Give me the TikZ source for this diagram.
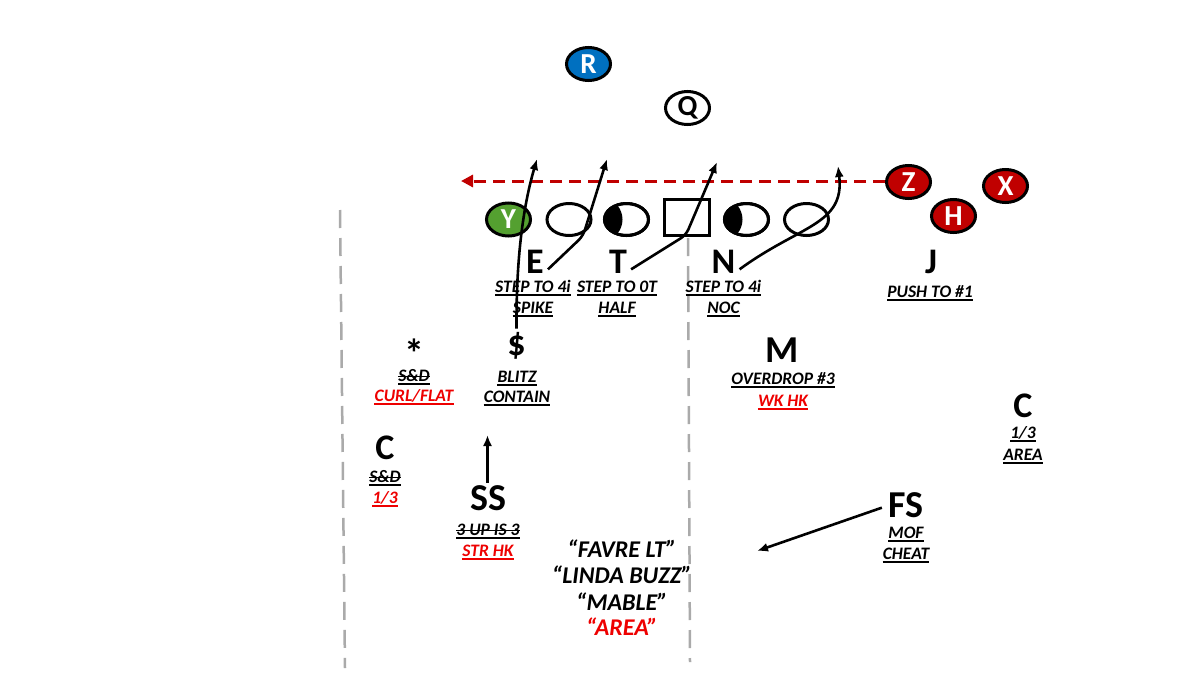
\documentclass[tikz,border=0pt]{standalone}
\usepackage{fontspec}
\setmainfont{Carlito}
\usetikzlibrary{arrows.meta,shapes.geometric}
\definecolor{pred}{RGB}{192,0,0}
\definecolor{pblue}{RGB}{0,112,192}
\definecolor{pgreen}{RGB}{84,160,48}
\definecolor{tred}{RGB}{238,0,0}
\definecolor{dgray}{RGB}{170,170,170}
\newcommand{\ulab}[4]{%
  \node[lab,text=#3] (#1) at (#2) {#4};
  \draw[#3,line width=1.6pt] ([yshift=-2.8pt]#1.base west) -- ([yshift=-2.8pt]#1.base east);}
\newcommand{\slab}[4]{%
  \ulab{#1}{#2}{#3}{#4}%
  \draw[#3,line width=1.6pt] ([yshift=4.6pt]#1.base west) -- ([yshift=4.6pt]#1.base east);}
\begin{document}
\begin{tikzpicture}[x=1pt,y=-1pt,
  player/.style={ellipse,draw=black,line width=3pt,minimum width=44pt,minimum height=33pt,inner sep=0pt,text=white,font=\fontsize{29}{29}\selectfont\bfseries},
  oline/.style={ellipse,draw=black,line width=3pt,minimum width=44pt,minimum height=32pt,inner sep=0pt,fill=white},
  big/.style={font=\fontsize{36}{36}\selectfont\bfseries,anchor=base,inner sep=0pt},
  bigger/.style={font=\fontsize{38}{38}\selectfont\bfseries,anchor=base,inner sep=0pt},
  lab/.style={font=\fontsize{17.5}{17.5}\selectfont\bfseries\itshape,anchor=base,inner sep=0pt},
  call/.style={font=\fontsize{24}{24}\selectfont\bfseries\itshape,anchor=base,inner sep=0pt},
  route/.style={line width=2.6pt,-{Latex[length=11pt,width=9pt]}},
  gdash/.style={dgray,line width=2.5pt,dash pattern=on 18pt off 10pt}]
\fill[white] (0,0) rectangle (1200,675);
\useasboundingbox (0,0) rectangle (1200,675);

% gray dashed lines
\coordinate (g1a) at (340,210);
\coordinate (g1b) at (345,668);
\coordinate (g2a) at (688,238);
\coordinate (g2b) at (690,662);
\draw[gdash] (g1a) -- (g1b);
\draw[gdash] (g2a) -- (g2b);

% backfield / receivers
\node[player,fill=pblue] (R) at (588.5,64) {R};
\node[player,fill=white,text=black] (Q) at (687.5,108) {Q};
\node[player,fill=pred] (Z) at (908.5,182) {Z};
\node[player,fill=pred] (X) at (1005.5,186) {X};
\node[player,fill=pred] (H) at (953.5,216) {H};
\node[player,fill=pgreen] (Y) at (508.5,219.5) {Y};

% offensive line
\node[oline] (OL1) at (569,219.5) {};
\node[oline] (OL2) at (626.5,219.5) {};
\begin{scope}
  \clip (OL2.center) ellipse [x radius=22pt,y radius=16pt];
  \fill ([xshift=-22pt]OL2.center) ellipse [x radius=18pt,y radius=20pt];
\end{scope}
\draw[line width=3pt] (OL2.center) ellipse [x radius=22pt,y radius=16pt];
\node[draw,line width=3pt,minimum width=45pt,minimum height=36pt,inner sep=0pt,fill=white] (OC) at (687,217.5) {};
\node[oline] (OL4) at (746.5,219.5) {};
\begin{scope}
  \clip (OL4.center) ellipse [x radius=22pt,y radius=16pt];
  \fill ([xshift=-22pt]OL4.center) ellipse [x radius=18pt,y radius=20pt];
\end{scope}
\draw[line width=3pt] (OL4.center) ellipse [x radius=22pt,y radius=16pt];
\node[oline] (OL5) at (806.5,219.5) {};

% red motion
\coordinate (ztip) at (461,181);
\draw[pred,line width=3pt,dash pattern=on 12pt off 7pt,-{Triangle[length=12pt,width=12pt]}] ([yshift=1pt]Z.west) -- ([yshift=1pt]Z.west -| ztip);

% defenders
\node[big] (E) at (535,273) {E};
\node[big] (T) at (618,273) {T};
\node[big] (N) at (723.5,273) {N};
\node[big] (J) at (931,273) {J};
\node[big] (DOL) at (516.5,355) {\$};
\node[font=\fontsize{40}{40}\selectfont\bfseries,anchor=base,inner sep=0pt] (STAR) at (414,367) {*};
\node[big] (CL) at (385,459.5) {C};
\node[bigger] (SS) at (488.5,510) {SS};
\node[bigger] (M) at (782,362.5) {M};
\node[big] (CR) at (1023,417) {C};
\node[bigger] (FS) at (905.5,517) {FS};

% labels
\ulab{lE1}{533,292}{black}{STEP TO 4i}
\ulab{lE2}{533,313}{black}{SPIKE}
\ulab{lT1}{617,292}{black}{STEP TO 0T}
\ulab{lT2}{617,313}{black}{HALF}
\ulab{lN1}{723.5,292}{black}{STEP TO 4i}
\ulab{lN2}{723.5,313}{black}{NOC}
\ulab{lJ}{930,297}{black}{PUSH TO \#1}
\slab{lS1}{414,381}{black}{S\&D}
\ulab{lS2}{414,401}{tred}{CURL/FLAT}
\ulab{lD1}{517,382}{black}{BLITZ}
\ulab{lD2}{517,402}{black}{CONTAIN}
\slab{lC1}{385,482}{black}{S\&D}
\ulab{lC2}{385,503}{tred}{1/3}
\slab{lSS1}{488,535}{black}{3 UP IS 3}
\ulab{lSS2}{488,556}{tred}{STR HK}
\ulab{lM1}{783,384}{black}{OVERDROP \#3}
\ulab{lM2}{783,406}{tred}{WK HK}
\ulab{lCR1}{1023,438}{black}{1/3}
\ulab{lCR2}{1023,460}{black}{AREA}
\ulab{lF1}{906,538}{black}{MOF}
\ulab{lF2}{906,559}{black}{CHEAT}

% calls
\node[call] (c1) at (622,557) {“FAVRE LT”};
\node[call] (c2) at (622,583) {“LINDA BUZZ”};
\node[call] (c3) at (622,610) {“MABLE”};
\node[call,text=tred] (c4) at (622,635) {“AREA”};

% routes
\coordinate (dtip) at (537,159);
\coordinate (etip) at (607,159);
\coordinate (ttip) at (717,162);
\coordinate (ntip) at (838,166);
\coordinate (ebend) at (583,236);
\coordinate (tbend) at (686,235);
\draw[route] ([yshift=3pt]DOL.north) .. controls (516,250) and (525,200) .. (dtip);
\draw[route,rounded corners=6pt] ([xshift=4pt,yshift=-8pt]E.east) -- (ebend) -- (etip);
\draw[route,rounded corners=6pt] ([xshift=4pt,yshift=-8pt]T.east) -- (tbend) -- (ttip);
\draw[route] ([xshift=4pt,yshift=-8pt]N.east) .. controls (800,225) and (845,225) .. (ntip);
\coordinate (ssfrom) at (487.5,483);
\coordinate (sstip) at (487.5,435);
\draw[route] (ssfrom) -- (sstip);
\coordinate (fstip) at (757,551);
\draw[route] ([xshift=-6pt,yshift=-3pt]FS.west) -- (fstip);
\end{tikzpicture}
\end{document}
